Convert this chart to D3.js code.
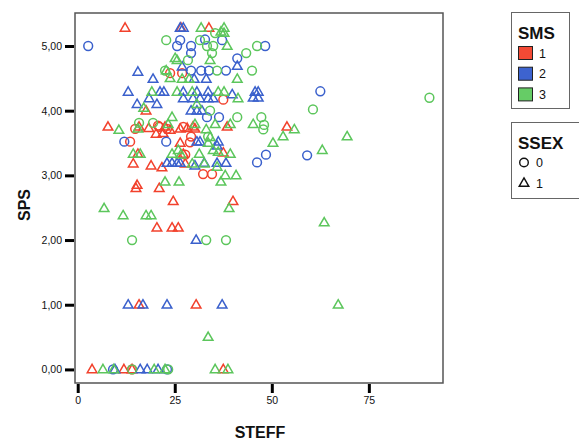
<!DOCTYPE html>
<html><head><meta charset="utf-8">
<script src="https://cdn.jsdelivr.net/npm/d3@7"></script>
<style>body{margin:0;background:#fff}svg{display:block}text{font-family:"Liberation Sans",Arial,sans-serif}</style>
</head><body><svg id="c" width="579" height="441"></svg>
<script>
// SMS groups and SSEX values
const smsLabels = ["1", "2", "3"];
const ssexLabels = ["0", "1"];
const yTicks = [0, 1, 2, 3, 4, 5];
const xTicks = [0, 25, 50, 75];

// [STEFF, SPS] per series
const red0 = [[23.8,4.58],[26.9,4.58],[37.5,4.17],[14.8,3.72],[21.0,3.75],[23.0,3.72],[27.2,3.75],[20.7,3.77],[13.5,3.52],[28.9,3.51],[29.2,3.6],[27.7,3.32],[32.3,3.02],[34.6,3.02],[14.0,0]];
const red1 = [[12.2,5.28],[26.6,5.28],[33.8,5.28],[17.6,4.0],[7.8,3.75],[15.8,3.75],[18.3,3.73],[22.5,3.75],[23.8,3.7],[26.4,3.72],[28.2,3.73],[29.7,3.75],[38.5,3.75],[53.9,3.75],[20.2,3.64],[22.0,3.65],[26.4,3.5],[30.2,3.72],[15.5,3.33],[37.5,3.35],[27.2,3.33],[14.3,3.18],[18.9,3.15],[21.7,3.12],[27.7,3.18],[15.3,2.85],[15.0,2.8],[21.0,2.8],[24.6,2.6],[40.0,2.6],[20.4,2.19],[24.3,2.19],[25.9,2.19],[15.8,1.0],[30.5,1.0],[3.7,0],[11.9,0],[14.0,0],[37.5,0]];
const blue0 = [[2.7,5.0],[26.4,5.09],[25.6,5.0],[29.2,5.0],[32.8,5.1],[37.2,5.09],[48.3,5.0],[29.2,4.89],[41.1,4.81],[29.2,4.62],[31.8,4.62],[33.8,4.62],[38.2,4.62],[62.5,4.3],[33.3,3.9],[36.4,3.9],[12.0,3.52],[22.8,3.52],[48.5,3.32],[46.2,3.2],[59.1,3.31],[9.1,0],[23.0,0]];
const blue1 = [[26.4,5.28],[27.2,5.28],[41.1,4.69],[15.5,4.6],[19.4,4.49],[30.0,4.49],[33.1,4.49],[26.9,4.68],[13.0,4.29],[21.2,4.29],[22.2,4.29],[27.2,4.29],[30.7,4.29],[33.6,4.29],[39.8,4.25],[45.7,4.29],[46.5,4.29],[45.2,4.2],[46.5,4.2],[18.4,4.19],[27.2,4.19],[29.7,4.19],[31.5,4.19],[33.6,4.19],[34.9,4.19],[15.3,4.1],[20.4,4.1],[29.2,4.0],[30.7,4.0],[32.0,4.0],[30.7,3.52],[31.5,3.52],[36.2,3.52],[35.9,3.46],[23.0,3.19],[24.3,3.19],[25.6,3.19],[26.4,3.19],[30.2,3.15],[32.6,3.19],[35.9,3.19],[38.2,3.19],[30.5,2.0],[13.0,1.0],[16.8,1.0],[23.0,1.0],[37.2,1.0],[9.6,0],[16.1,0],[17.9,0],[20.7,0]];
const green0 = [[22.8,5.09],[31.5,5.09],[33.3,5.0],[34.9,5.0],[46.2,5.0],[43.4,4.89],[28.4,4.78],[34.6,4.89],[35.4,5.2],[22.5,4.62],[35.9,4.62],[44.9,4.62],[34.1,4.0],[41.1,3.9],[47.3,3.9],[60.6,4.02],[90.6,4.2],[15.8,3.81],[19.4,3.81],[47.8,3.71],[48.0,3.78],[33.6,3.6],[14.0,2.0],[33.1,2.0],[38.2,2.0],[14.0,0],[23.3,0]];
const green1 = [[31.8,5.28],[37.7,5.28],[36.9,5.22],[37.7,5.2],[38.5,5.0],[25.6,4.78],[34.1,4.78],[25.1,4.81],[22.8,4.62],[23.8,4.5],[26.9,4.49],[28.7,4.49],[41.1,4.49],[19.1,4.29],[25.6,4.29],[29.5,4.29],[36.2,4.29],[37.7,4.29],[41.3,4.19],[30.7,4.1],[17.0,4.04],[10.6,3.7],[15.5,3.72],[23.3,3.79],[24.3,3.9],[30.2,3.79],[33.1,3.71],[35.4,3.79],[39.3,3.79],[45.2,3.79],[55.8,3.71],[52.9,3.6],[50.3,3.5],[69.4,3.6],[33.6,3.5],[34.1,3.59],[14.3,3.33],[16.1,3.33],[24.3,3.33],[25.9,3.39],[31.3,3.33],[34.9,3.39],[39.3,3.33],[36.2,3.36],[26.6,3.32],[29.5,3.18],[32.6,3.18],[35.9,3.13],[38.0,3.0],[40.8,3.0],[36.9,2.9],[22.5,2.9],[26.1,2.9],[63.0,3.39],[39.0,2.49],[6.8,2.49],[11.7,2.38],[17.6,2.38],[18.9,2.38],[63.5,2.27],[33.6,0.5],[67.1,1.0],[6.5,0],[9.3,0],[19.7,0],[22.5,0],[35.4,0],[38.7,0]];

const colors = ["#f2412c", "#3a60cc", "#5cc65c"];
const swatch = ["#f34a35", "#3d63cf", "#66cc66"];
const series = [
  {pts: red0, c: 0, s: 0}, {pts: red1, c: 0, s: 1},
  {pts: blue0, c: 1, s: 0}, {pts: blue1, c: 1, s: 1},
  {pts: green0, c: 2, s: 0}, {pts: green1, c: 2, s: 1}
];

const svg = d3.select("#c");
const L = 75, T = 13, R = 443, B = 383;
const x = d3.scaleLinear().domain([-0.7, 94.1]).range([L, R]);
const y = d3.scaleLinear().domain([-0.21, 5.51]).range([B, T]);
const fmt = v => d3.format(".2f")(v).replace(".", ",");

// axes
const yAx = svg.append("g").attr("transform", `translate(${L - 1},0)`)
  .call(d3.axisLeft(y).tickValues(yTicks).tickSize(9).tickPadding(3).tickFormat(fmt));
const xAx = svg.append("g").attr("transform", `translate(0,${B + 1})`)
  .call(d3.axisBottom(x).tickValues(xTicks).tickSize(9).tickPadding(4).tickFormat(d3.format("d")));
[yAx, xAx].forEach(g => {
  g.select(".domain").remove();
  g.selectAll(".tick line").attr("stroke", "#000").attr("stroke-width", 3);
  g.selectAll(".tick text").attr("fill", "#111").style("font-size", "10.5px").style("font-family", "'Liberation Sans Narrow','Liberation Sans',Arial,sans-serif");
});

svg.append("rect").attr("x", L).attr("y", T).attr("width", R - L).attr("height", B - T)
  .attr("fill", "none").attr("stroke", "#555").attr("stroke-width", 1.5);

const tri = d3.symbol(d3.symbolTriangle, 40);
const plot = svg.append("g");
series.forEach(sr => {
  const g = plot.append("g").attr("fill", "none").attr("stroke", colors[sr.c]).attr("stroke-width", 1.5);
  if (sr.s === 0) {
    g.selectAll("circle").data(sr.pts).join("circle")
      .attr("cx", d => x(d[0])).attr("cy", d => y(d[1])).attr("r", 4.4);
  } else {
    g.selectAll("path").data(sr.pts).join("path")
      .attr("d", tri).attr("transform", d => `translate(${x(d[0])},${y(d[1]) + 0.5})`);
  }
});

// axis titles
svg.append("text").attr("x", 260).attr("y", 438).attr("text-anchor", "middle")
  .style("font-size", "16px").style("font-weight", "bold").attr("fill", "#111").text("STEFF");
svg.append("text").attr("transform", "translate(30,205) rotate(-90)").attr("text-anchor", "middle")
  .style("font-size", "16px").style("font-weight", "bold").attr("fill", "#111").text("SPS");

// legends
const lg1 = svg.append("g");
lg1.append("rect").attr("x", 511.5).attr("y", 12.5).attr("width", 58).attr("height", 96)
  .attr("fill", "#fff").attr("stroke", "#666").attr("stroke-width", 1);
lg1.append("text").attr("x", 518).attr("y", 39).style("font-size", "17px").style("font-weight", "bold").attr("fill", "#111").text("SMS");
smsLabels.forEach((lab, i) => {
  const yy = 46.5 + i * 20.7;
  lg1.append("rect").attr("x", 518.5).attr("y", yy).attr("width", 14).attr("height", 13)
    .attr("fill", swatch[i]).attr("stroke", "#222").attr("stroke-width", 1);
  lg1.append("text").attr("x", 539).attr("y", yy + 11).style("font-size", "12.5px").attr("fill", "#111").text(lab);
});
const lg2 = svg.append("g");
lg2.append("rect").attr("x", 511.5).attr("y", 122.5).attr("width", 68).attr("height", 76)
  .attr("fill", "#fff").attr("stroke", "#666").attr("stroke-width", 1);
lg2.append("text").attr("x", 518).attr("y", 149).style("font-size", "17px").style("font-weight", "bold").attr("fill", "#111").text("SSEX");
lg2.append("circle").attr("cx", 524).attr("cy", 162.5).attr("r", 4.3).attr("fill", "none").attr("stroke", "#111").attr("stroke-width", 1.4);
lg2.append("text").attr("x", 536).attr("y", 167).style("font-size", "12.5px").attr("fill", "#111").text(ssexLabels[0]);
lg2.append("path").attr("d", d3.symbol(d3.symbolTriangle, 40)()).attr("transform", "translate(524,183.5)")
  .attr("fill", "none").attr("stroke", "#111").attr("stroke-width", 1.4);
lg2.append("text").attr("x", 536).attr("y", 188).style("font-size", "12.5px").attr("fill", "#111").text(ssexLabels[1]);
</script></body></html>
